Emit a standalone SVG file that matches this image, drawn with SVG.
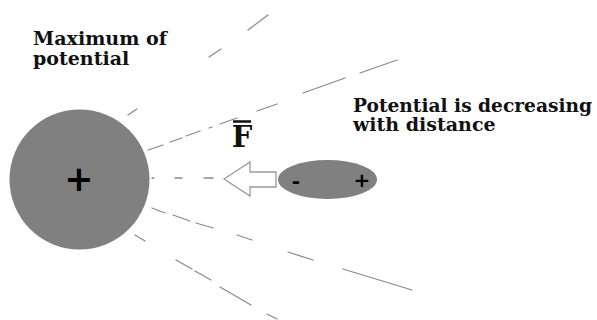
<svg xmlns="http://www.w3.org/2000/svg" width="597" height="320" viewBox="0 0 597 320">
<style>
.lbl{font-family:"DejaVu Serif","Liberation Serif",serif;font-weight:bold;font-size:19px;fill:#111}
.fl line{stroke:#8a8a8a;stroke-width:1.3;stroke-linecap:round}
.body{fill:#808080}
.sign{font-family:"DejaVu Sans",sans-serif;font-weight:bold;fill:#000;text-anchor:middle}
</style>
<rect width="597" height="320" fill="#fff"/>
<g id="field-lines" class="fl">
<line x1="128" y1="115" x2="137" y2="109"/>
<line x1="209" y1="57" x2="221" y2="49"/>
<line x1="248" y1="30" x2="268" y2="15"/>
<line x1="148" y1="150" x2="163" y2="145"/>
<line x1="170" y1="142" x2="182" y2="138"/>
<line x1="186" y1="136" x2="200" y2="131"/>
<line x1="209" y1="128" x2="212" y2="127"/>
<line x1="220" y1="124" x2="237" y2="118"/>
<line x1="257" y1="111" x2="277" y2="104"/>
<line x1="303" y1="93" x2="345" y2="78"/>
<line x1="360" y1="73" x2="397" y2="60"/>
<line x1="152" y1="178" x2="154" y2="178"/>
<line x1="175" y1="178" x2="182" y2="178"/>
<line x1="204" y1="178" x2="213" y2="178"/>
<line x1="152" y1="208" x2="165" y2="213"/>
<line x1="173" y1="215" x2="190" y2="221"/>
<line x1="196" y1="223" x2="213" y2="228"/>
<line x1="237" y1="235" x2="252" y2="240"/>
<line x1="288" y1="252" x2="313" y2="260"/>
<line x1="343" y1="269" x2="412" y2="290"/>
<line x1="135" y1="235" x2="145" y2="241"/>
<line x1="176" y1="260" x2="192" y2="269"/>
<line x1="195" y1="271" x2="211" y2="280"/>
<line x1="220" y1="287" x2="251" y2="305"/>
<line x1="267" y1="314" x2="277" y2="319"/>
</g>
<g id="source-charge">
<circle class="body" cx="79.5" cy="179.5" r="70"/>
<text class="sign" x="79" y="191" style="font-size:35px">+</text>
</g>
<g id="dipole">
<ellipse class="body" cx="327.5" cy="179.5" rx="49.5" ry="19.5"/>
<text class="sign" x="296" y="188" style="font-size:20px">-</text>
<text class="sign" x="362" y="187" style="font-size:20px">+</text>
</g>
<g id="force-arrow">
<polygon points="224,179 250,162 250,172 276,172 276,187 250,187 250,196" fill="#fff" stroke="#999" stroke-width="1.3" stroke-linejoin="miter"/>
<line x1="233" y1="121.5" x2="251" y2="121.5" stroke="#111" stroke-width="2.5"/>
<text class="lbl" x="242" y="147" text-anchor="middle" style="font-size:29px">F</text>
</g>
<g id="label-max">
<text class="lbl" x="33" y="45" textLength="134" lengthAdjust="spacingAndGlyphs">Maximum of</text>
<text class="lbl" x="33" y="65">potential</text>
</g>
<g id="label-decreasing">
<text class="lbl" x="353" y="112" textLength="239" lengthAdjust="spacingAndGlyphs">Potential is decreasing</text>
<text class="lbl" x="353" y="131">with distance</text>
</g>
</svg>
